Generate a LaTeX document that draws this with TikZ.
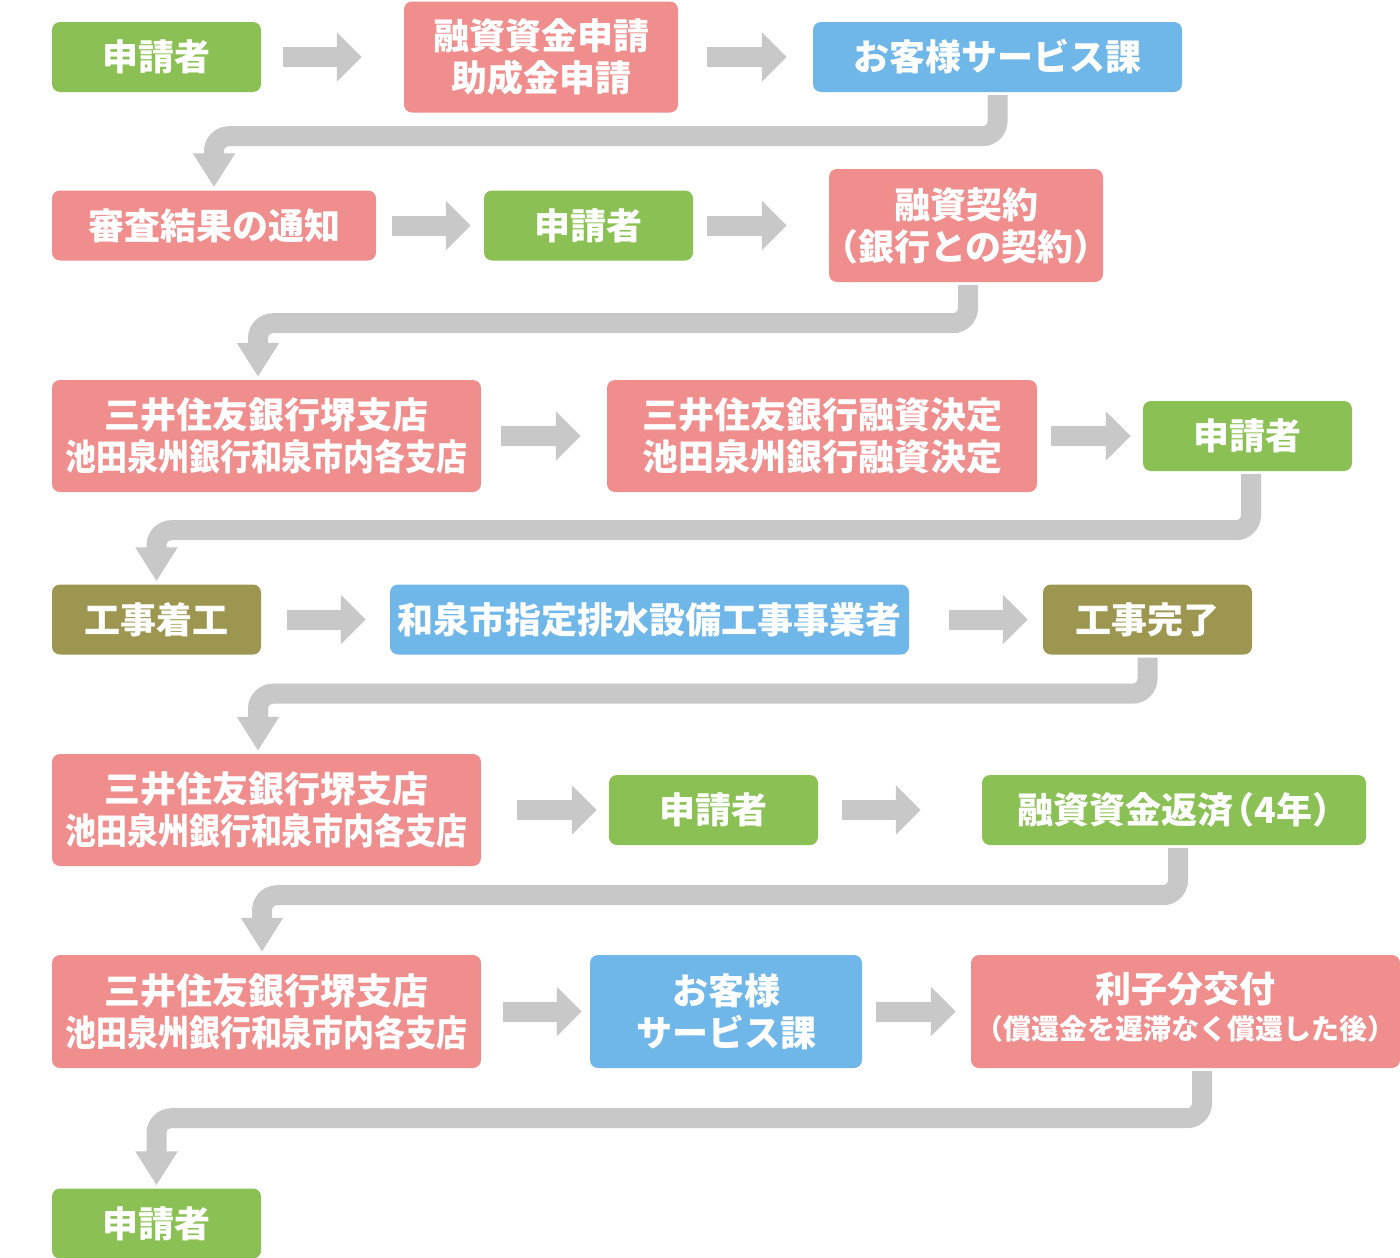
\documentclass[tikz,border=0pt]{standalone}
\usepackage{fontspec}
\setmainfont{Noto Sans CJK JP}
\usepackage{graphicx}
\usepackage{tikz}
\usetikzlibrary{arrows.meta}
\definecolor{leaf}{RGB}{139,193,84}
\definecolor{rose}{RGB}{240,142,142}
\definecolor{sky}{RGB}{111,183,233}
\definecolor{moss}{RGB}{157,150,80}
\definecolor{ash}{RGB}{200,200,200}
\tikzstyle{box} = [rectangle, rounded corners=8pt, inner sep=0pt,
align=center, text=white, font=\bfseries\fontsize{36}{42}\selectfont]
\tikzstyle{applicant} = [box, fill=leaf, minimum width=209pt, minimum
height=70pt]
\tikzstyle{bank} = [box, fill=rose, minimum height=112pt]
\tikzstyle{city} = [box, fill=sky, minimum height=70pt]
\tikzstyle{works} = [box, fill=moss, minimum width=209pt, minimum
height=70pt]
\tikzstyle{flow} = [draw=ash, line width=20pt,
-{Triangle[length=25pt, width=48pt]}]
\tikzstyle{turn} = [draw=ash, line width=20pt, rounded corners=15pt,
shorten <=3pt, shorten >=3pt, -{Triangle[length=34pt, width=40pt]}]

\begin{document}
\begin{tikzpicture}[x=1pt, y=-1pt]
\useasboundingbox (0,0) rectangle (1400,1258);

% row 1
\node(a1)[applicant] at (156.5,57){申請者};
\node(a2)[bank, minimum width=274pt, minimum height=111pt] at (541,57){融資資金申請\\助成金申請};
\node(a3)[city, minimum width=369pt] at (997.5,57){お客様サービス課};

% row 2
\node(b1)[bank, minimum width=324pt, minimum height=70pt] at (214,225.5){審査結果の通知};
\node(b2)[applicant] at (588.5,225.5){申請者};
\node(b3)[bank, minimum width=274pt, minimum height=113pt] at (966,225.5){融資契約\\\kern-.25em（銀行との契約）\kern-.25em};

% row 3
\node(c1)[bank, minimum width=429pt] at (266.5,436){三井住友銀行堺支店\\\scalebox{0.86}[1]{池田泉州銀行和泉市内各支店}};
\node(c2)[bank, minimum width=430pt] at (822,436){三井住友銀行融資決定\\池田泉州銀行融資決定};
\node(c3)[applicant] at (1247.5,436){申請者};

% row 4
\node(d1)[works] at (156.5,619.5){工事着工};
\node(d2)[city, minimum width=519pt] at (649.5,619.5){和泉市指定排水設備工事事業者};
\node(d3)[works] at (1147.5,619.5){工事完了};

% row 5
\node(e1)[bank, minimum width=429pt] at (266.5,810){三井住友銀行堺支店\\\scalebox{0.86}[1]{池田泉州銀行和泉市内各支店}};
\node(e2)[applicant] at (713.5,810){申請者};
\node(e3)[applicant, minimum width=384pt] at (1174,810){融資資金返済\kern-.4em（4年）\kern-.5em};

% row 6
\node(f1)[bank, minimum width=429pt, minimum height=113pt] at (266.5,1011.5){三井住友銀行堺支店\\\scalebox{0.86}[1]{池田泉州銀行和泉市内各支店}};
\node(f2)[city, minimum width=272pt, minimum height=113pt] at (726,1011.5){お客様\\サービス課};
\node(f3)[bank, minimum width=429pt, minimum height=113pt] at (1185.5,1011.5){利子分交付\\[-5pt]{\fontsize{28}{30}\selectfont （償還金を遅滞なく償還した後）\rule[-11pt]{0pt}{11pt}}};

% row 7
\node(g1)[applicant] at (156.5,1223.5){申請者};

\draw[flow, shorten <=22pt, shorten >=42pt](a1.east) -- (a2.west);
\draw[flow, shorten <=29pt, shorten >=26pt](a2.east) -- (a3.west);
\draw[turn](a3.south) -- ++(0,44) -| (b1.north);

\draw[flow, shorten <=16pt, shorten >=13pt](b1.east) -- (b2.west);
\draw[flow, shorten <=14pt, shorten >=42pt](b2.east) -- (b3.west);
\draw[turn]([xshift=2pt]b3.south) -- ++(0,41) -| ([xshift=-8.5pt]c1.north);

\draw[flow, shorten <=20pt, shorten >=26pt](c1.east) -- (c2.west);
\draw[flow, shorten <=14pt, shorten >=12pt](c2.east) -- (c3.west);
\draw[turn]([xshift=3.5pt]c3.south) -- ++(0,59) -| (d1.north);

\draw[flow, shorten <=26pt, shorten >=24pt](d1.east) -- (d2.west);
\draw[flow, shorten <=40pt, shorten >=15pt](d2.east) -- (d3.west);
\draw[turn](d3.south) -- ++(0,39) -| ([xshift=-8.5pt]e1.north);

\draw[flow, shorten <=36pt, shorten >=12pt](e1.east) -- (e2.west);
\draw[flow, shorten <=24pt, shorten >=61pt](e2.east) -- (e3.west);
\draw[turn]([xshift=4pt]e3.south) -- ++(0,50) -| ([xshift=-4.5pt]f1.north);

\draw[flow, shorten <=22pt, shorten >=8pt](f1.east) -- (f2.west);
\draw[flow, shorten <=14pt, shorten >=15pt](f2.east) -- (f3.west);
\draw[turn]([xshift=16.5pt]f3.south) -- ++(0,50) -| (g1.north);

\end{tikzpicture}
\end{document}
